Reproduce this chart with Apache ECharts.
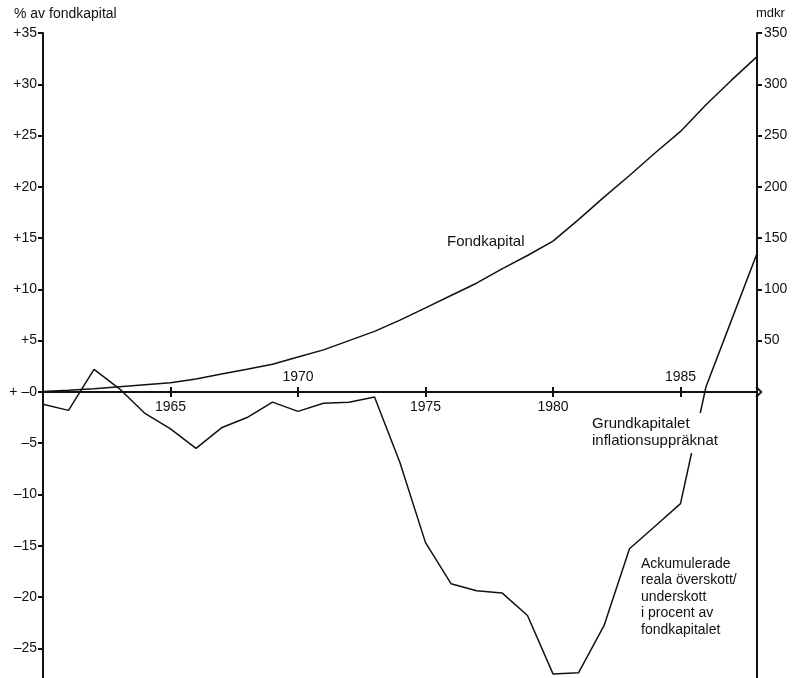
<!DOCTYPE html>
<html>
<head>
<meta charset="utf-8">
<script src="https://cdn.jsdelivr.net/npm/echarts@6/dist/echarts.min.js"></script>
<style>
  html, body { margin: 0; padding: 0; background: #fff; }
  #chart { width: 792px; height: 678px; }
</style>
</head>
<body>
<div id="chart"></div>
<script>
// Years on the horizontal axis
const years = [1960, 1961, 1962, 1963, 1964, 1965, 1966, 1967, 1968, 1969,
               1970, 1971, 1972, 1973, 1974, 1975, 1976, 1977, 1978, 1979,
               1980, 1981, 1982, 1983, 1984, 1985, 1986, 1987, 1988];

// Fondkapital, mdkr (right axis)
const fondkapital = [0.5, 1.5, 3, 5, 7, 9, 12.5, 17.5, 22, 27,
                     34, 41, 50, 59, 70, 82, 94, 106, 120, 133,
                     147, 168, 190, 211, 233, 254, 280, 304, 327];

// Ackumulerade reala över-/underskott, % av fondkapitalet (left axis)
const ackumulerade = [-1.2, -1.8, 2.2, 0.3, -2.1, -3.6, -5.5, -3.5, -2.5, -1.0,
                      -1.9, -1.1, -1.0, -0.5, -6.9, -14.7, -18.7, -19.4, -19.6, -21.8,
                      -27.5, -27.4, -22.8, -15.3, -13.1, -10.9, 0.5, 7.0, 13.5];

// Tick positions
const percentTicks = [-25, -20, -15, -10, -5, 0, 5, 10, 15, 20, 25, 30, 35];
const mdkrTicks = [50, 100, 150, 200, 250, 300, 350];
const yearTicks = [1965, 1970, 1975, 1980, 1985];
const yearLabelsBelow = [1965, 1975, 1980];
const yearLabelsAbove = [1970, 1985];

const FONT = '"Liberation Sans", Arial, Helvetica, sans-serif';
const INK = '#111';

function percentLabel(v) {
  if (v > 0) return '+' + v;
  if (v === 0) return '+ \u20130';
  return '\u2013' + Math.abs(v);
}

const axisLineStyle = { color: INK, width: 2 };
const tickStyle = { color: INK, width: 2 };
const labelStyle = { color: INK, fontFamily: FONT, fontSize: 14 };

// Year labels sit on the zero line: some below it, some above it
function yearLabelSeries(list, pos) {
  return {
    type: 'scatter', xAxisIndex: 0, yAxisIndex: 0, silent: true, z: 4,
    symbolSize: 0.1, itemStyle: { color: INK, opacity: 1 },
    label: {
      show: true, position: pos, distance: 8, opacity: 1,
      color: INK, fontFamily: FONT, fontSize: 14,
      textBorderWidth: 0,
      formatter: p => String(p.value[0])
    },
    data: list.map(y => [y, 0])
  };
}

const chart = echarts.init(document.getElementById('chart'), null, { renderer: 'canvas' });

chart.setOption({
  animation: false,
  backgroundColor: '#fff',
  grid: {
    left: 43, right: 35, top: 33, bottom: 0,
    containLabel: false,
    outerBoundsMode: 'none'
  },
  xAxis: [
    {
      type: 'value', min: 1960, max: 1988, position: 'bottom',
      axisLine: {
        onZero: true, onZeroAxisIndex: 0, lineStyle: axisLineStyle,
        symbol: ['none', 'path://M6,0 L12,6 L10.5,7.2 L6,2.6 L1.5,7.2 L0,6 Z'],
        symbolSize: [12, 8], symbolOffset: [0, 2]
      },
      axisTick: { show: true, customValues: yearTicks, length: 5, lineStyle: tickStyle },
      axisLabel: { show: false },
      splitLine: { show: false }
    },
    {
      type: 'value', min: 1960, max: 1988, position: 'top',
      axisLine: { show: false, onZero: true, onZeroAxisIndex: 0 },
      axisTick: { show: true, customValues: yearTicks, length: 5, lineStyle: tickStyle },
      axisLabel: { show: false },
      splitLine: { show: false }
    }
  ],
  yAxis: [
    {
      type: 'value', min: -27.9, max: 35, position: 'left',
      axisLine: { show: true, onZero: false, lineStyle: axisLineStyle },
      axisTick: { show: true, customValues: percentTicks, length: 5, lineStyle: tickStyle },
      axisLabel: Object.assign({ customValues: percentTicks, margin: 6, formatter: percentLabel }, labelStyle),
      splitLine: { show: false }
    },
    {
      type: 'value', min: -279, max: 350, position: 'right',
      axisLine: { show: true, onZero: false, lineStyle: axisLineStyle },
      axisTick: { show: true, customValues: mdkrTicks, length: 5, lineStyle: tickStyle },
      axisLabel: Object.assign({ customValues: mdkrTicks, margin: 7 }, labelStyle),
      splitLine: { show: false }
    }
  ],
  graphic: [
    { type: 'text', left: 14, top: 7, z: 100,
      style: { text: '% av fondkapital', fill: INK, font: '14px ' + FONT } },
    { type: 'text', left: 756, top: 7, z: 100,
      style: { text: 'mdkr', fill: INK, font: '13px ' + FONT } },
    { type: 'text', left: 447, top: 234, z: 100,
      style: { text: 'Fondkapital', fill: INK, font: '15px ' + FONT } },
    { type: 'text', left: 590, top: 413, z: 100,
      style: { text: 'Grundkapitalet\ninflationsuppräknat', fill: INK, font: '15px ' + FONT,
               lineHeight: 17, backgroundColor: '#fff', padding: [2, 4, 4, 2] } },
    { type: 'text', left: 641, top: 556, z: 100,
      style: { text: 'Ackumulerade\nreala överskott/\nunderskott\ni procent av\nfondkapitalet',
               fill: INK, font: '14px ' + FONT, lineHeight: 16.4 } }
  ],
  series: [
    {
      name: 'Fondkapital', type: 'line', xAxisIndex: 0, yAxisIndex: 1,
      showSymbol: false, silent: true, z: 3,
      lineStyle: { color: INK, width: 1.5 },
      data: years.map((y, i) => [y, fondkapital[i]])
    },
    {
      name: 'Ackumulerade', type: 'line', xAxisIndex: 0, yAxisIndex: 0,
      showSymbol: false, silent: true, z: 3,
      lineStyle: { color: INK, width: 1.5 },
      data: years.map((y, i) => [y, ackumulerade[i]])
    },
    yearLabelSeries(yearLabelsBelow, 'bottom'),
    yearLabelSeries(yearLabelsAbove, 'top')
  ]
});
</script>
</body>
</html>
